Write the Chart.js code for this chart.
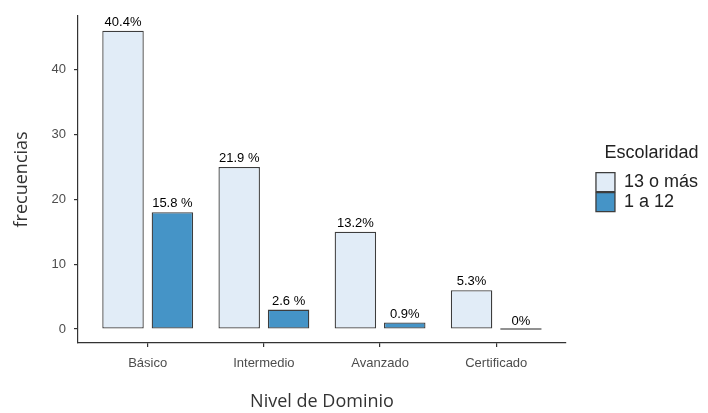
<!DOCTYPE html>
<html lang="es">
<head>
<meta charset="utf-8">
<title>Nivel de Dominio</title>
<script src="https://cdn.jsdelivr.net/npm/chart.js@4.4.1/dist/chart.umd.min.js"></script>
<style>
    html, body { margin: 0; padding: 0; background: #ffffff; }
    #contenedor { position: relative; width: 708px; height: 413px; }
</style>
</head>
<body>
<div id="contenedor"><canvas id="grafico"></canvas></div>
<script>
// Datos
const categorias = ['Básico', 'Intermedio', 'Avanzado', 'Certificado'];
const frec13oMas = [46, 25, 15, 6];
const frec1a12 = [18, 3, 1, 0];
const etiquetas13oMas = ['40.4%', '21.9 %', '13.2%', '5.3%'];
const etiquetas1a12 = ['15.8 %', '2.6 %', '0.9%', '0%'];
const ticksY = [0, 10, 20, 30, 40];

const fuenteTexto = 'Liberation Sans';
const fuenteTitulo = 'Open Sans';

// Etiquetas de porcentaje encima de cada barra
const etiquetasBarras = {
    id: 'etiquetasBarras',
    afterDatasetsDraw(chart) {
        const ctx = chart.ctx;
        const textos = [etiquetas13oMas, etiquetas1a12];
        ctx.save();
        ctx.font = '13px "' + fuenteTexto + '"';
        ctx.fillStyle = '#000000';
        ctx.textAlign = 'center';
        ctx.textBaseline = 'alphabetic';
        chart.data.datasets.forEach((ds, i) => {
            const meta = chart.getDatasetMeta(i);
            meta.data.forEach((barra, j) => {
                ctx.fillText(textos[i][j], barra.x, barra.y - 5);
            });
        });
        ctx.restore();
    }
};

document.addEventListener('DOMContentLoaded', function() {
    const ctx = document.getElementById('grafico').getContext('2d');

    new Chart(ctx, {
        type: 'bar',
        data: {
            datasets: [{
                label: '13 o más',
                data: categorias.map((c, i) => ({ x: i, y: frec13oMas[i] })),
                backgroundColor: '#e1ecf7',
                borderColor: '#3d3d3d',
                borderWidth: 1.3,
                borderSkipped: false,
                minBarLength: 1.5
            }, {
                label: '1 a 12',
                data: categorias.map((c, i) => ({ x: i, y: frec1a12[i] })),
                backgroundColor: '#4594c7',
                borderColor: '#3d3d3d',
                borderWidth: 1.3,
                borderSkipped: false,
                minBarLength: 1.5
            }]
        },
        options: {
            responsive: true,
            maintainAspectRatio: false,
            animation: false,
            categoryPercentage: 0.85,
            barPercentage: 0.84,
            layout: {
                padding: { top: 15, right: 0, bottom: 0, left: 0 }
            },
            plugins: {
                tooltip: { enabled: false },
                legend: {
                    position: 'right',
                    align: 'start',
                    title: {
                        display: true,
                        text: 'Escolaridad',
                        color: '#222222',
                        font: { family: fuenteTexto, size: 18 },
                        padding: { top: 129, bottom: 6 }
                    },
                    labels: {
                        boxWidth: 19,
                        boxHeight: 19,
                        padding: 1,
                        color: '#222222',
                        font: { family: fuenteTexto, size: 18 }
                    }
                }
            },
            scales: {
                x: {
                    type: 'linear',
                    position: 'bottom',
                    offset: false,
                    min: -0.6,
                    max: 3.6,
                    bounds: 'data',
                    afterBuildTicks: function(scale) {
                        scale.ticks = categorias.map((c, i) => ({ value: i }));
                    },
                    afterFit: function(scale) {
                        scale.height = 70;
                    },
                    grid: {
                        display: true,
                        offset: false,
                        drawOnChartArea: false,
                        drawTicks: true,
                        tickLength: 4,
                        color: '#333333',
                        lineWidth: 1.2
                    },
                    border: { display: true, color: '#333333', width: 1.2 },
                    ticks: {
                        padding: 9,
                        color: '#4d4d4d',
                        font: { family: fuenteTexto, size: 13 },
                        callback: function(valor) {
                            return categorias[valor];
                        }
                    },
                    title: {
                        display: true,
                        text: 'Nivel de Dominio',
                        color: '#333333',
                        font: { family: fuenteTitulo, size: 18 },
                        padding: { top: 0, bottom: 0 }
                    }
                },
                y: {
                    min: -2.15,
                    max: 48.3,
                    afterBuildTicks: function(scale) {
                        scale.ticks = ticksY.map(v => ({ value: v }));
                    },
                    afterFit: function(scale) {
                        scale.width = 78;
                    },
                    grid: {
                        display: true,
                        drawOnChartArea: false,
                        drawTicks: true,
                        tickLength: 4,
                        color: '#333333',
                        lineWidth: 1.2
                    },
                    border: { display: true, color: '#333333', width: 1.2 },
                    ticks: {
                        padding: 8,
                        color: '#4d4d4d',
                        font: { family: fuenteTexto, size: 13 }
                    },
                    title: {
                        display: true,
                        text: 'frecuencias',
                        color: '#333333',
                        font: { family: fuenteTitulo, size: 18 },
                        padding: { top: 11, bottom: 0 }
                    }
                },
                // eje vacío para separar la leyenda del área del gráfico
                separador: {
                    type: 'linear',
                    position: 'right',
                    display: true,
                    grid: { display: false },
                    border: { display: false },
                    ticks: { display: false },
                    afterFit: function(scale) {
                        scale.width = 29;
                    }
                }
            }
        },
        plugins: [etiquetasBarras]
    });
});
</script>
</body>
</html>
